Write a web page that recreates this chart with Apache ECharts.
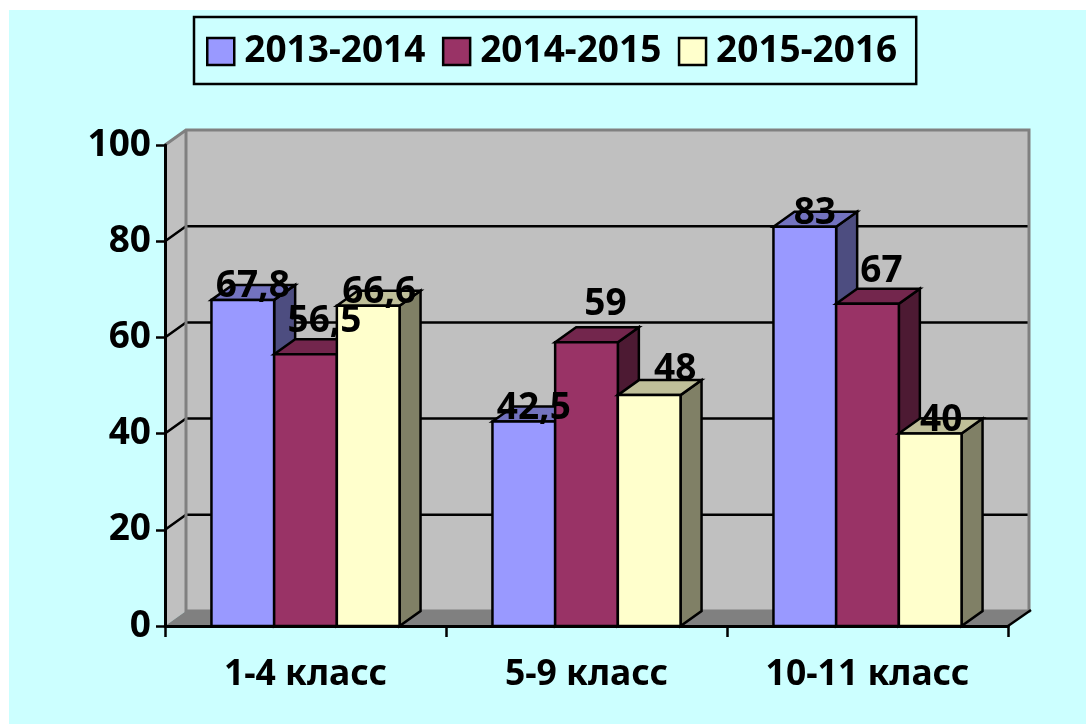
<!DOCTYPE html>
<html><head><meta charset="utf-8">
<style>html,body{margin:0;padding:0;background:#fff}#c{width:1086px;height:724px}</style>
<script src="https://cdn.jsdelivr.net/npm/echarts@6/dist/echarts.min.js"></script>
</head><body><div id="c"></div>
<script>
const categories = ['1-4 класс', '5-9 класс', '10-11 класс'];
const seriesNames = ['2013-2014', '2014-2015', '2015-2016'];
const values2013 = [67.8, 42.5, 83];
const values2014 = [56.5, 59, 67];
const values2015 = [66.6, 48, 40];
const yTicks = [0, 20, 40, 60, 80, 100];

const FONT = '"Noto Sans", sans-serif';
const DX = 21, DY = -15;           // oblique depth of the 3D projection
const BAR_FRAC = 62.7 / 281;
const palettes = [
  {front:'#9999FF', top:'#7373BF', side:'#4D4D80'},
  {front:'#993366', top:'#73264D', side:'#4D1A33'},
  {front:'#FFFFCC', top:'#BFBF99', side:'#808066'}
];
// hand-placed label shifts from the bar's top centre, as in the reference [dx, dy] per series & category
const labelShift = [
  [[10,-13],[10,-13],[10,-13]],
  [[19,-33],[19,-38],[14,-32]],
  [[11,-13],[26,-26],[11,-13]]
];
const fmt = v => String(v).replace('.', ',');

function wallItem(params, api) {
  const cs = params.coordSys;
  const L = cs.x, R = cs.x + cs.width, B = cs.y + cs.height, T = cs.y;
  const kids = [];
  const gray = '#808080';
  kids.push({type:'polygon', shape:{points:[[L+DX,T+DY],[R+DX,T+DY],[R+DX,B+DY],[L+DX,B+DY]]}, style:{fill:'#C0C0C0'}});
  kids.push({type:'polygon', shape:{points:[[L,T],[L+DX,T+DY],[L+DX,B+DY],[L,B]]}, style:{fill:'#C0C0C0'}});
  kids.push({type:'polygon', shape:{points:[[L,B],[L+DX,B+DY],[R+DX,B+DY],[R,B]]}, style:{fill:gray}});
  yTicks.forEach(t => {
    const y = api.coord([0, t])[1];
    if (t > 0 && t < 100) {
      kids.push({type:'polyline', shape:{points:[[L,y],[L+DX,y+DY],[R+DX,y+DY]]}, style:{fill:null, stroke:'#000', lineWidth:2.5}});
    }
  });
  kids.push({type:'polyline', shape:{points:[[L,T],[L+DX,T+DY],[R+DX,T+DY],[R+DX,B+DY],[L+DX,B+DY],[L+DX,T+DY]]}, style:{fill:null, stroke:gray, lineWidth:3}});
  kids.push({type:'line', shape:{x1:R, y1:B, x2:R+DX+2, y2:B+DY-1}, style:{stroke:'#000', lineWidth:2.5}});
  return {type:'group', children:kids};
}

function barRender(si) {
  return function (params, api) {
    const c = api.value(0), v = api.value(1);
    const band = api.size([1, 0])[0];
    const w = band * BAR_FRAC;
    const centre = api.coord([c, 0])[0];
    const x0 = centre + (si - 1) * w - w / 2, x1 = x0 + w;
    const yb = api.coord([c, 0])[1], yt = api.coord([c, v])[1];
    const pal = palettes[si];
    const st = {stroke:'#000', lineWidth:2.5, lineJoin:'miter'};
    const sh = labelShift[si][c];
    return {type:'group', children:[
      {type:'polygon', shape:{points:[[x1,yt],[x1+DX,yt+DY],[x1+DX,yb+DY],[x1,yb]]}, style:Object.assign({fill:pal.side}, st)},
      {type:'polygon', shape:{points:[[x0,yt],[x0+DX,yt+DY],[x1+DX,yt+DY],[x1,yt]]}, style:Object.assign({fill:pal.top}, st)},
      {type:'rect', shape:{x:x0, y:yt, width:w, height:yb-yt}, style:Object.assign({fill:pal.front}, st)},
      {type:'text', z2:100, x:(x0+x1)/2+sh[0], y:yt+sh[1], style:{text:fmt(v), fill:'#000', font:'bold 37px '+FONT, align:'center', verticalAlign:'middle'}}
    ]};
  };
}

const allValues = [values2013, values2014, values2015];
const chart = echarts.init(document.getElementById('c'), null, {renderer:'canvas'});
chart.setOption({
  animation:false,
  backgroundColor:'#fff',
  graphic:[{type:'rect', z:-10, shape:{x:9, y:10, width:1077, height:714}, style:{fill:'#CCFFFF'}}],
  legend:{
    left:194, top:17, width:722, padding:[16,19,14,12], itemGap:16.5, itemWidth:27, itemHeight:27, icon:'rect',
    borderColor:'#000', borderWidth:2.5, data:seriesNames,
    itemStyle:{borderColor:'#000', borderWidth:2.5},
    textStyle:{color:'#000', fontFamily:FONT, fontWeight:'bold', fontSize:37, padding:[5,0,0,5]},
    selectedMode:false
  },
  grid:{left:165, right:78, top:145, bottom:98},
  xAxis:{type:'category', data:categories, boundaryGap:true,
    axisLine:{onZero:false, lineStyle:{color:'#000', width:3}},
    axisTick:{show:true, alignWithLabel:false, length:11, lineStyle:{color:'#000', width:2.5}},
    axisLabel:{color:'#000', fontFamily:FONT, fontWeight:'bold', fontSize:35.5, margin:31},
    splitLine:{show:false}},
  yAxis:{type:'value', min:0, max:100, interval:20,
    axisLine:{show:true, lineStyle:{color:'#000', width:3}},
    axisTick:{show:true, length:9, lineStyle:{color:'#000', width:2.5}},
    axisLabel:{color:'#000', fontFamily:FONT, fontWeight:'bold', fontSize:37, margin:14, padding:[5,0,0,0]},
    splitLine:{show:false}},
  series:[
    {type:'custom', name:'walls', z:-1, silent:true, clip:false, renderItem:wallItem, data:[[0,0]], encode:{x:0,y:1}}
  ].concat(seriesNames.map((n, si) => ({
    type:'custom', name:n, z:2, clip:false, renderItem:barRender(si),
    itemStyle:{color:palettes[si].front},
    encode:{x:0, y:1},
    data:allValues[si].map((v, i) => [i, v])
  })))
});
</script></body></html>
